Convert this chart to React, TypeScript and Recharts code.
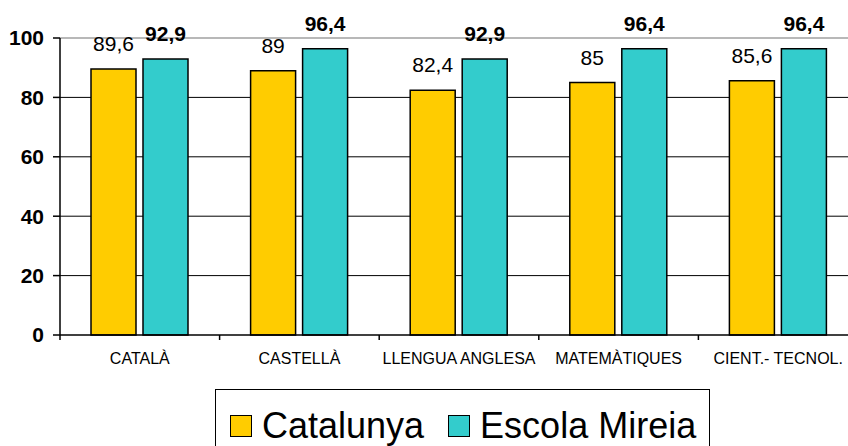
import { Bar, BarChart, CartesianGrid, LabelList, ReferenceLine, XAxis, YAxis } from "recharts";

const subjects = ["CATALÀ", "CASTELLÀ", "LLENGUA ANGLESA", "MATEMÀTIQUES", "CIENT.- TECNOL."];
const catalunya = [89.6, 89, 82.4, 85, 85.6];
const escolaMireia = [92.9, 96.4, 92.9, 96.4, 96.4];
const yTicks = [0, 20, 40, 60, 80, 100];
const gridValues = [20, 40, 60, 80];

const series = [
  { key: "catalunya", name: "Catalunya", color: "#FFCC00", bold: false },
  { key: "mireia", name: "Escola Mireia", color: "#33CCCC", bold: true },
];

const data = subjects.map((name, i) => ({
  name,
  catalunya: catalunya[i],
  mireia: escolaMireia[i],
}));

const font = "'Liberation Sans', Arial, sans-serif";
const comma = (v: any) => String(v).replace(".", ",");
const LABEL_GAP = 18;

// category label + small tick at the left edge of each band (Excel style)
function CategoryTick(props: any) {
  const { x, y, payload } = props;
  const half = payload.offset ?? 0;
  const axisY = y - LABEL_GAP;
  return (
    <g>
      <line x1={x - half} x2={x - half} y1={axisY} y2={axisY + 5} stroke="#000" strokeWidth={1.5} />
      <text x={x} y={y} dy="0.71em" textAnchor="middle" fill="#000" fontSize={16} fontFamily={font}>
        {payload.value}
      </text>
    </g>
  );
}

export default function App() {
  return (
    <div
      style={{
        position: "fixed",
        left: 0,
        top: 0,
        width: 848,
        height: 446,
        overflow: "hidden",
        background: "#fff",
        fontFamily: font,
      }}
    >
      <BarChart
        width={870}
        height={446}
        data={data}
        barSize={45}
        barGap={7}
        margin={{ top: 38, right: 12, bottom: 0, left: 0 }}
      >
        <CartesianGrid vertical={false} horizontalValues={gridValues} stroke="#000" strokeOpacity={1} />
        <ReferenceLine y={100} stroke="#b8b8b8" strokeWidth={2} />
        <XAxis
          dataKey="name"
          height={111}
          axisLine={{ stroke: "#000", strokeWidth: 1.5 }}
          tickLine={false}
          tickSize={0}
          tickMargin={LABEL_GAP}
          interval={0}
          tick={CategoryTick}
        />
        <YAxis
          domain={[0, 100]}
          ticks={yTicks}
          width={60}
          tickSize={7}
          tickMargin={9}
          axisLine={{ stroke: "#000", strokeWidth: 1.5 }}
          tickLine={{ stroke: "#000", strokeWidth: 1.5 }}
          tick={{ fill: "#000", fontSize: 21, fontWeight: "bold", fontFamily: font }}
        />
        {series.map((s) => (
          <Bar
            key={s.key}
            dataKey={s.key}
            name={s.name}
            fill={s.color}
            stroke="#000"
            strokeWidth={1.5}
            isAnimationActive={false}
          >
            <LabelList
              dataKey={s.key}
              position="top"
              offset={18}
              formatter={comma}
              fill="#000"
              fontSize={21}
              fontWeight={s.bold ? "bold" : "normal"}
              fontFamily={font}
            />
          </Bar>
        ))}
      </BarChart>
      <div
        style={{
          position: "absolute",
          left: 215,
          top: 389,
          width: 495,
          height: 80,
          border: "1.5px solid #000",
          boxSizing: "border-box",
          display: "flex",
          alignItems: "flex-start",
          paddingLeft: 14,
          paddingTop: 18,
        }}
      >
        {series.map((s, i) => (
          <div
            key={s.key}
            style={{ display: "flex", alignItems: "center", marginLeft: i === 0 ? 0 : 24 }}
          >
            <span
              style={{
                display: "inline-block",
                width: 22,
                height: 22,
                background: s.color,
                border: "1.5px solid #000",
                boxSizing: "border-box",
              }}
            />
            <span style={{ fontSize: 36, lineHeight: "36px", marginLeft: 10, color: "#000" }}>
              {s.name}
            </span>
          </div>
        ))}
      </div>
    </div>
  );
}
